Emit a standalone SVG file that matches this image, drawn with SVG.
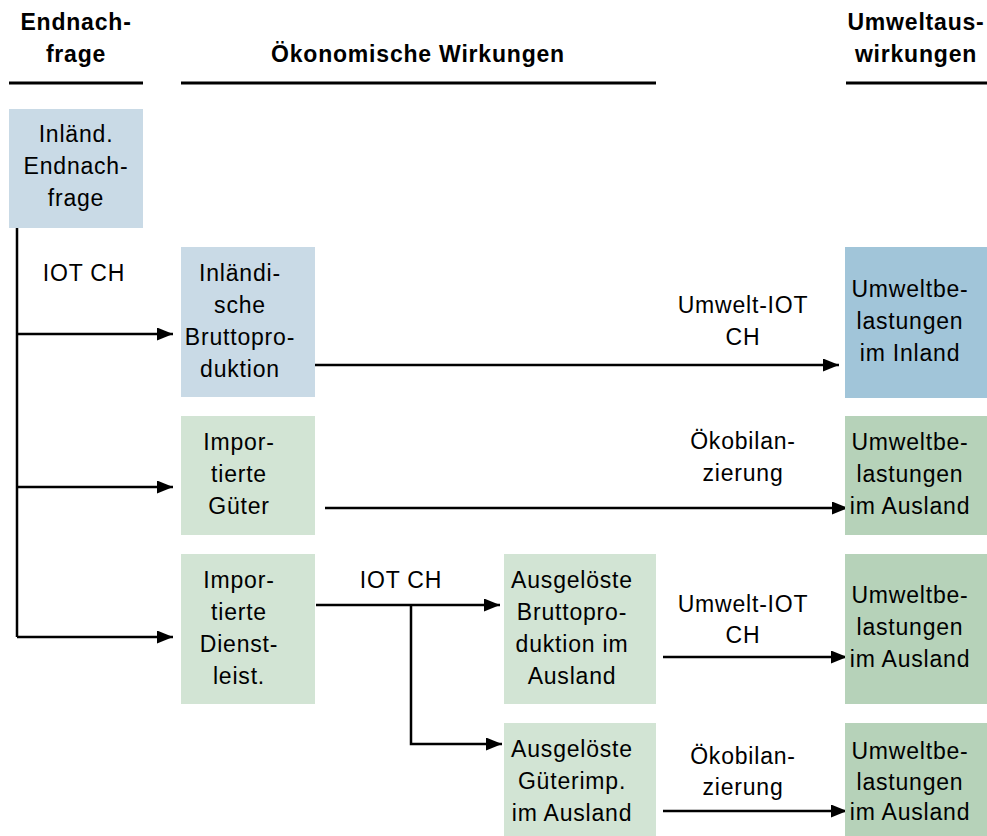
<svg xmlns="http://www.w3.org/2000/svg" width="987" height="836" viewBox="0 0 987 836">
<defs>
<style>
text{font-family:"Liberation Sans",Arial,sans-serif;font-size:23px;letter-spacing:0.8px;fill:#000;text-anchor:middle}
.h{font-weight:bold}
.rule{stroke:#000;stroke-width:3}
.c{stroke:#000;stroke-width:2.5;fill:none}
.blue{fill:#c9dae6}
.blue2{fill:#a1c5d9}
.grn{fill:#d2e4d4}
.grn2{fill:#b6d2b9}
</style>
<marker id="ah" viewBox="0 0 16 13" refX="16" refY="6.5" markerWidth="16" markerHeight="13" markerUnits="userSpaceOnUse" orient="auto">
<path d="M0,0 L16,6.5 L0,13 Z" fill="#000"/>
</marker>
</defs>
<rect width="987" height="836" fill="#fff"/>

<g id="headers">
<text class="h" x="76" y="30">Endnach-</text>
<text class="h" x="76" y="62">frage</text>
<text class="h" x="418" y="62">Ökonomische Wirkungen</text>
<text class="h" x="916" y="30">Umweltaus-</text>
<text class="h" x="916" y="62">wirkungen</text>
<line class="rule" x1="9" y1="83" x2="143" y2="83"/>
<line class="rule" x1="181" y1="83" x2="656" y2="83"/>
<line class="rule" x1="846" y1="83" x2="987" y2="83"/>
</g>

<g id="connectors">
<path class="c" d="M17,228 V637"/>
<path class="c" d="M17,334 H173" marker-end="url(#ah)"/>
<path class="c" d="M17,487 H173" marker-end="url(#ah)"/>
<path class="c" d="M17,637 H173" marker-end="url(#ah)"/>
<path class="c" d="M315,365 H839" marker-end="url(#ah)"/>
<path class="c" d="M325,508 H848" marker-end="url(#ah)"/>
<path class="c" d="M316,605 H500" marker-end="url(#ah)"/>
<path class="c" d="M411,605 V744 H502" marker-end="url(#ah)"/>
<path class="c" d="M663,657 H847" marker-end="url(#ah)"/>
<path class="c" d="M663,811 H847" marker-end="url(#ah)"/>
<text x="84" y="281">IOT CH</text>
<text x="401" y="588">IOT CH</text>
<text x="743" y="313">Umwelt-IOT</text>
<text x="743" y="345">CH</text>
<text x="743" y="449">Ökobilan-</text>
<text x="743" y="481">zierung</text>
<text x="743" y="612">Umwelt-IOT</text>
<text x="743" y="643">CH</text>
<text x="743" y="764">Ökobilan-</text>
<text x="743" y="795">zierung</text>
</g>

<g id="n-endnachfrage">
<rect class="blue" x="9" y="109" width="134" height="119"/>
<text x="76" y="142">Inländ.</text>
<text x="76" y="174">Endnach-</text>
<text x="76" y="206">frage</text>
</g>

<g id="n-inl-brutto">
<rect class="blue" x="181" y="247" width="134" height="150"/>
<text x="240" y="281">Inländi-</text>
<text x="240" y="313">sche</text>
<text x="240" y="345">Bruttopro-</text>
<text x="240" y="377">duktion</text>
</g>

<g id="n-imp-gueter">
<rect class="grn" x="181" y="416" width="134" height="119"/>
<text x="239" y="450">Impor-</text>
<text x="239" y="482">tierte</text>
<text x="239" y="514">Güter</text>
</g>

<g id="n-imp-dienst">
<rect class="grn" x="181" y="554" width="134" height="150"/>
<text x="239" y="588">Impor-</text>
<text x="239" y="620">tierte</text>
<text x="239" y="652">Dienst-</text>
<text x="239" y="684">leist.</text>
</g>

<g id="n-ausg-brutto">
<rect class="grn" x="504" y="554" width="152" height="150"/>
<text x="572" y="588">Ausgelöste</text>
<text x="572" y="620">Bruttopro-</text>
<text x="572" y="652">duktion im</text>
<text x="572" y="684">Ausland</text>
</g>

<g id="n-ausg-gueter">
<rect class="grn" x="504" y="723" width="152" height="113"/>
<text x="572" y="757">Ausgelöste</text>
<text x="572" y="789">Güterimp.</text>
<text x="572" y="821">im Ausland</text>
</g>

<g id="n-umw-inland">
<rect class="blue2" x="845" y="247" width="142" height="151"/>
<text x="910" y="297">Umweltbe-</text>
<text x="910" y="329">lastungen</text>
<text x="910" y="361">im Inland</text>
</g>

<g id="n-umw-ausland1">
<rect class="grn2" x="845" y="416" width="142" height="119"/>
<text x="910" y="450">Umweltbe-</text>
<text x="910" y="482">lastungen</text>
<text x="910" y="514">im Ausland</text>
</g>

<g id="n-umw-ausland2">
<rect class="grn2" x="845" y="554" width="142" height="150"/>
<text x="910" y="603">Umweltbe-</text>
<text x="910" y="635">lastungen</text>
<text x="910" y="667">im Ausland</text>
</g>

<g id="n-umw-ausland3">
<rect class="grn2" x="845" y="723" width="142" height="113"/>
<text x="910" y="759">Umweltbe-</text>
<text x="910" y="790">lastungen</text>
<text x="910" y="820">im Ausland</text>
</g>
</svg>
